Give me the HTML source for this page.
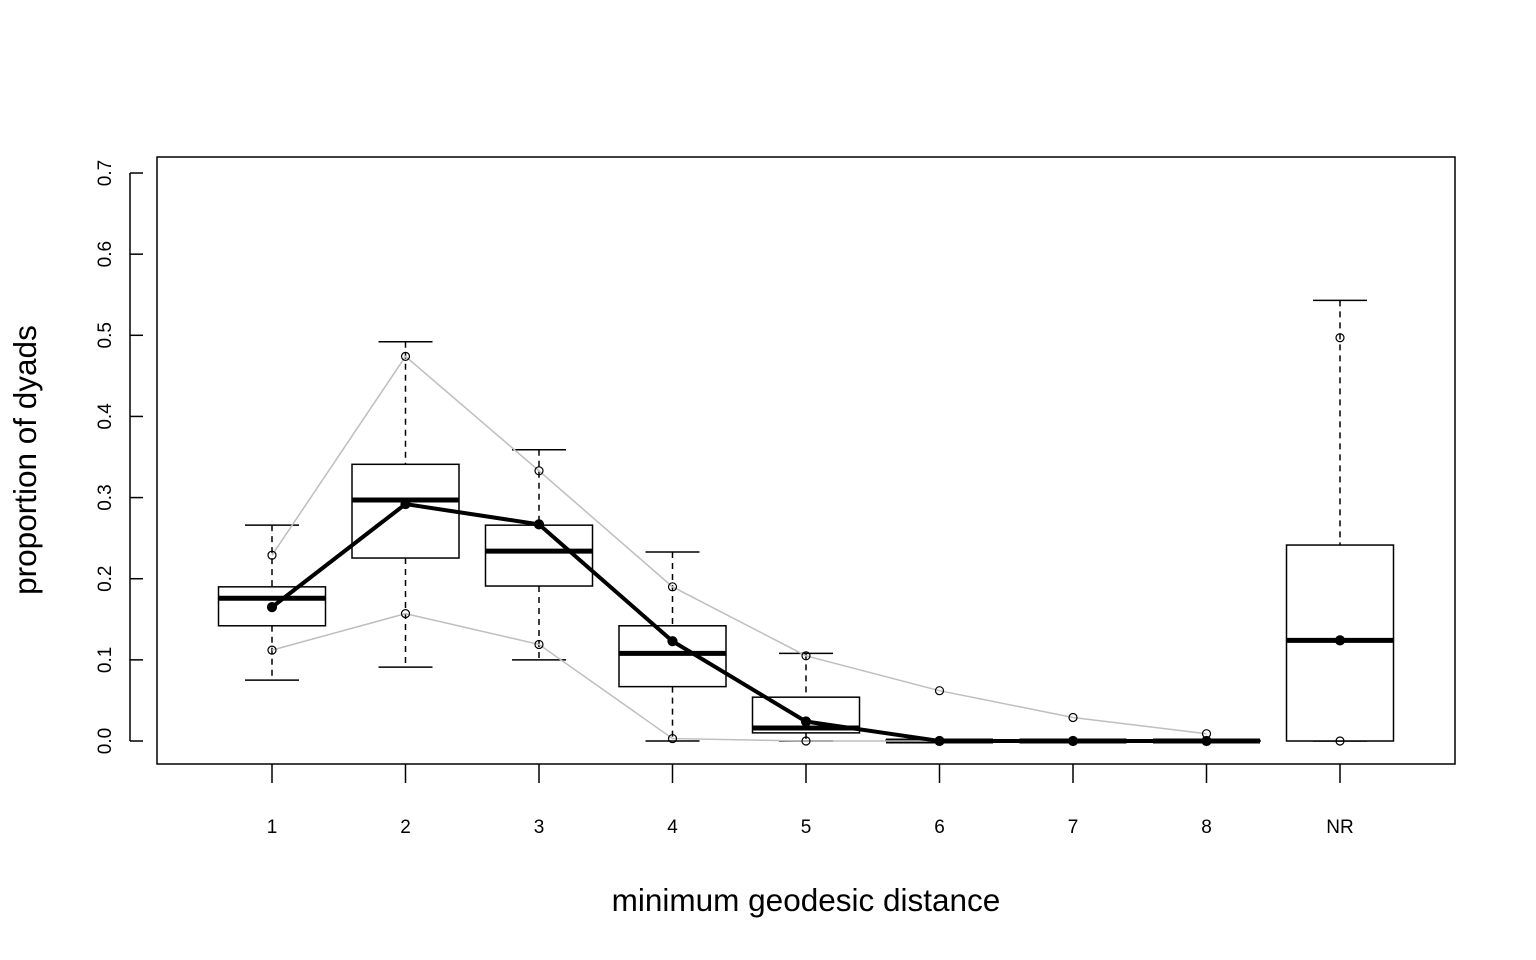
<!DOCTYPE html>
<html><head><meta charset="utf-8"><style>
html,body{margin:0;padding:0;background:#fff;}
svg{display:block;font-family:"Liberation Sans",Arial,sans-serif;}
</style></head><body>
<svg id="chart" width="1536" height="960" viewBox="0 0 1536 960">
<rect x="157" y="157" width="1298" height="607" fill="none" stroke="#000" stroke-width="1.5"/>
<g id="yaxis"></g>
<g id="xaxis"></g>
<g id="boxes"></g>
<g id="lines"></g>
<text x="806" y="911" font-size="31.5" text-anchor="middle">minimum geodesic distance</text>
<text transform="translate(36,460) rotate(-90)" font-size="31.5" text-anchor="middle">proportion of dyads</text>
</svg>
<script>
const categories=["1","2","3","4","5","6","7","8","NR"];
const whiskerHigh=[0.266,0.492,0.359,0.233,0.108,0.001,0.001,0.001,0.543];
const boxHigh=[0.190,0.341,0.266,0.142,0.054,0.001,0.0005,0.0005,0.2415];
const medians=[0.176,0.297,0.234,0.108,0.016,0,0,0,0.124];
const boxLow=[0.142,0.2255,0.191,0.067,0.010,0,0,0,0];
const whiskerLow=[0.075,0.091,0.100,0,0,0,0,0,0];
const observed=[0.165,0.292,0.267,0.123,0.024,0,0,0,0.124];
const upperRef=[0.229,0.474,0.333,0.190,0.105,0.062,0.029,0.009,0.497];
const lowerRef=[0.112,0.157,0.119,0.003,0,0,0,0,0];
const yTicks=[0,0.1,0.2,0.3,0.4,0.5,0.6,0.7];
const yTickLabels=["0.0","0.1","0.2","0.3","0.4","0.5","0.6","0.7"];

const NS="http://www.w3.org/2000/svg";
const xs=i=>272+i*133.5;
const ys=v=>741-v*811.4;
function mk(p,tag,attrs){const e=document.createElementNS(NS,tag);for(const k in attrs)e.setAttribute(k,attrs[k]);p.appendChild(e);return e;}
const ya=document.getElementById('yaxis'),xa=document.getElementById('xaxis'),bx=document.getElementById('boxes'),ln=document.getElementById('lines');
mk(ya,'line',{x1:130,x2:130,y1:ys(0),y2:ys(0.7),stroke:'#000','stroke-width':1.5});
yTicks.forEach((v,i)=>{
 const tk=mk(ya,'line',{x1:130,x2:143,y1:ys(v),y2:ys(v),stroke:'#000','stroke-width':1.5});
 
 
 const tx=mk(ya,'text',{transform:`translate(111,${ys(v)}) rotate(-90)`,'font-size':19,'text-anchor':'middle'});
 tx.textContent=yTickLabels[i];
 
 
});
categories.forEach((c,i)=>{
 const x=xs(i);
 const tk=mk(xa,'line',{x1:x,x2:x,y1:764,y2:783,stroke:'#000','stroke-width':1.5});
 
 
 const tx=mk(xa,'text',{x:x,y:833,'font-size':19,'text-anchor':'middle'});
 tx.textContent=c;
 
 
 const g=mk(bx,'g',{});
 
 
 mk(g,'line',{x1:x,x2:x,y1:ys(whiskerHigh[i]),y2:ys(boxHigh[i]),stroke:'#000','stroke-width':1.5,'stroke-dasharray':'6,5'});
 mk(g,'line',{x1:x,x2:x,y1:ys(boxLow[i]),y2:ys(whiskerLow[i]),stroke:'#000','stroke-width':1.5,'stroke-dasharray':'6,5'});
 mk(g,'line',{x1:x-27,x2:x+27,y1:ys(whiskerHigh[i]),y2:ys(whiskerHigh[i]),stroke:'#000','stroke-width':1.5});
 mk(g,'line',{x1:x-27,x2:x+27,y1:ys(whiskerLow[i]),y2:ys(whiskerLow[i]),stroke:'#000','stroke-width':1.5});
 mk(g,'rect',{x:x-53.5,y:ys(boxHigh[i]),width:107,height:Math.max(ys(boxLow[i])-ys(boxHigh[i]),0.5),fill:'#fff',stroke:'#000','stroke-width':1.5});
 mk(g,'line',{x1:x-53.5,x2:x+53.5,y1:ys(medians[i]),y2:ys(medians[i]),stroke:'#000','stroke-width':5});
});
function series(vals,color,w,filled,name){
 const g=mk(ln,'g',{});
 
 
 const pts=vals.slice(0,8).map((v,i)=>xs(i)+','+ys(v)).join(' ');
 mk(g,'polyline',{points:pts,fill:'none',stroke:color,'stroke-width':w});
 vals.forEach((v,i)=>{
  mk(g,'circle',{cx:xs(i),cy:ys(v),r:filled?4.5:4,fill:filled?'#000':'none',stroke:'#000','stroke-width':1.2});
 });
}
series(upperRef,'#bebebe',1.5,false,'upper-reference-line');
series(lowerRef,'#bebebe',1.5,false,'lower-reference-line');
series(observed,'#000',4,true,'observed-line');
</script>
</body></html>
